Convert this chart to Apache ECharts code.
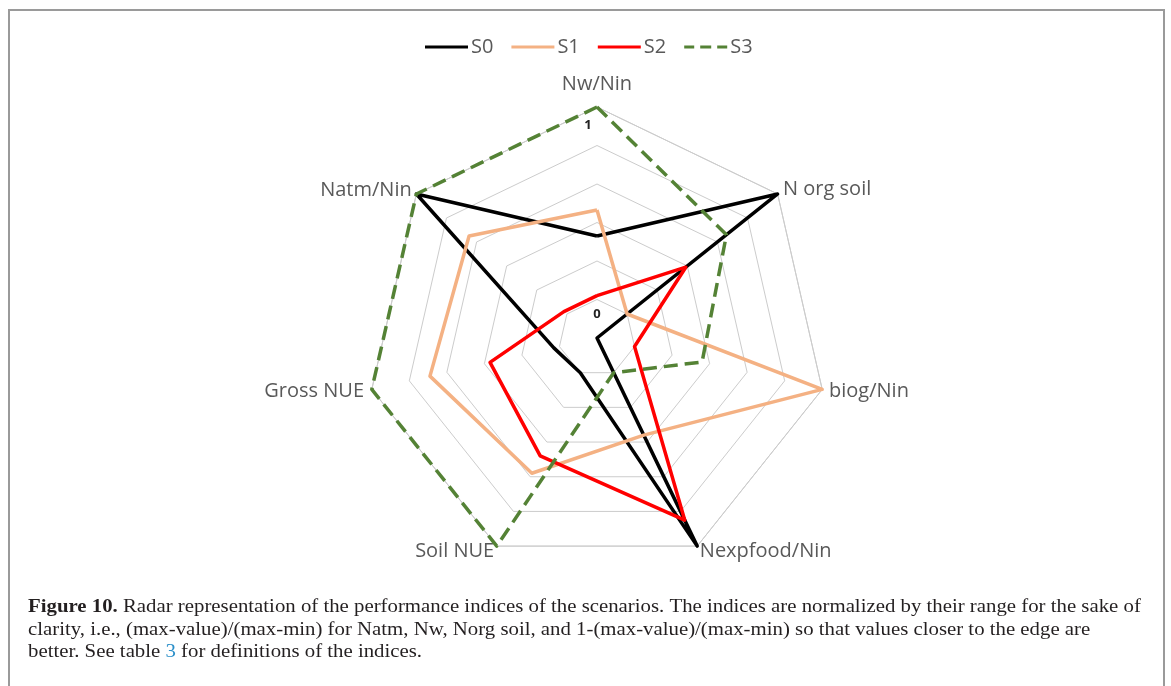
<!DOCTYPE html>
<html>
<head>
<meta charset="utf-8">
<script src="https://cdn.jsdelivr.net/npm/echarts@6/dist/echarts.min.js"></script>
<style>
  html, body { margin: 0; padding: 0; background: #fff; }
  #main { width: 1171px; height: 686px; }
</style>
</head>
<body>
<div id="main"></div>
<script>
// axes, in the order echarts lays them out (counter-clockwise from the top)
var axisNames = ['Nw/Nin', 'Natm/Nin', 'Gross NUE', 'Soil NUE', 'Nexpfood/Nin', 'biog/Nin', 'N org soil'];
var seriesNames = ['S0', 'S1', 'S2', 'S3'];
// normalized index values
var s0 = [0.33, 1, 0.03, 0.0, 1, -0.2, 1];
var s1 = [0.465, 0.65, 0.69, 0.58, 0.36, 1, 0.0];
var s2 = [0.02, 0.02, 0.37, 0.48, 0.85, 0.0, 0.39];
var s3 = [1, 1, 1, 1, 0.0, 0.36, 0.66];
var tickLabels = [0, 1];

var colors = ['#000000', '#F4B183', '#FF0000', '#548235'];
var lineTypes = ['solid', 'solid', 'solid', 'dashed'];
var values = [s0, s1, s2, s3];
var nameGaps = [13, 6, 8, 6, 6, 7, 7];

var chart = echarts.init(document.getElementById('main'));

var indicators = axisNames.map(function (n, i) {
  var ind = { name: n, min: -0.2, max: 1, nameGap: nameGaps[i] };
  if (i === 0) {
    // only the first spoke carries the 0 / 1 labels
    ind.axisLabel = {
      show: true,
      margin: 0,
      align: 'center',
      verticalAlign: 'top',
      formatter: function (v) {
        if (Math.abs(v - tickLabels[0]) < 1e-6) return '{a|0}';
        if (Math.abs(v - tickLabels[1]) < 1e-6) return '{b|1}';
        return '';
      },
      rich: {
        a: { fontSize: 13, fontWeight: 'bold', color: '#222', fontFamily: 'Open Sans', padding: [8, 0, 0, 0] },
        b: { fontSize: 13, fontWeight: 'bold', color: '#222', fontFamily: 'Open Sans', padding: [12, 18, 0, 0] }
      }
    };
  }
  return ind;
});

var dataItems = seriesNames.map(function (n, i) {
  return {
    name: n,
    value: values[i],
    itemStyle: { color: colors[i] },
    lineStyle: { color: colors[i], width: 3.5, type: lineTypes[i] }
  };
});
// dashed legend mark for S3
var dashIcon = 'path://M0,0h10v3h-10z M16,0h11v3h-11z M33,0h10v3h-10z';

var captionFont = '19px "Liberation Serif"';
var captionStretch = 1.095;

option = {
  backgroundColor: '#ffffff',
  animation: false,
  legend: {
    top: 32,
    left: 420,
    itemWidth: 43,
    itemHeight: 3,
    itemGap: 18,
    textStyle: { color: '#595959', fontSize: 20, fontFamily: 'Open Sans', padding: [0, 0, 0, -2] },
    data: seriesNames.map(function (n, i) {
      return {
        name: n,
        icon: i === 3 ? dashIcon : 'rect',
        itemStyle: { color: colors[i], borderWidth: 0 }
      };
    })
  },
  radar: {
    center: [597, 338],
    radius: 231,
    startAngle: 90,
    shape: 'polygon',
    splitNumber: 6,
    indicator: indicators,
    axisName: { color: '#595959', fontSize: 20, fontFamily: 'Open Sans' },
    axisLine: { show: false },
    axisTick: { show: false },
    axisLabel: { show: false },
    splitArea: { show: false },
    splitLine: { lineStyle: { color: '#cccccc', width: 1 } }
  },
  series: [{
    type: 'radar',
    symbol: 'none',
    data: dataItems
  }],
  graphic: [
    {
      type: 'rect',
      shape: { x: 9, y: 10, width: 1155, height: 700 },
      style: { fill: 'none', stroke: '#9a9a9a', lineWidth: 2 },
      silent: true
    },
    {
      type: 'text', x: 28, y: 607, scaleX: captionStretch,
      style: {
        text: '{b|Figure 10.} Radar representation of the performance indices of the scenarios. The indices are normalized by their range for the sake of',
        font: captionFont, fill: '#231f20', verticalAlign: 'middle',
        rich: { b: { fontWeight: 'bold', fontSize: 19, fontFamily: 'Liberation Serif', fill: '#231f20' } }
      }
    },
    {
      type: 'text', x: 28, y: 630, scaleX: captionStretch,
      style: {
        text: 'clarity, i.e., (max-value)/(max-min) for Natm, Nw, Norg soil, and 1-(max-value)/(max-min) so that values closer to the edge are',
        font: captionFont, fill: '#231f20', verticalAlign: 'middle'
      }
    },
    {
      type: 'text', x: 28, y: 652, scaleX: captionStretch,
      style: {
        text: 'better. See table {c|3} for definitions of the indices.',
        font: captionFont, fill: '#231f20', verticalAlign: 'middle',
        rich: { c: { fontSize: 19, fontFamily: 'Liberation Serif', fill: '#2a8fc9' } }
      }
    }
  ]
};

chart.setOption(option);
</script>
</body>
</html>
